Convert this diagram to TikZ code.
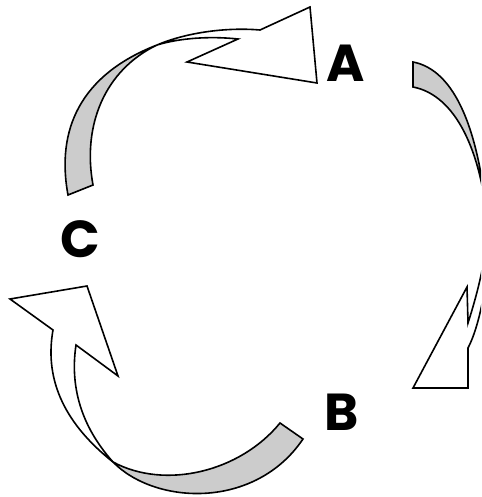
\documentclass[tikz,border=0pt]{standalone}
\usepackage{fontspec}
\newfontfamily\labfont{Poppins}
\begin{document}
\begin{tikzpicture}[x=1pt,y=-1pt,
  back/.style={draw=black,fill=black!20,line width=1.6pt,line join=miter},
  front/.style={draw=black,fill=white,line width=1.6pt,line join=miter},
  lab/.style={font=\labfont\bfseries\fontsize{52}{52}\selectfont,inner sep=0pt}]
\useasboundingbox (0,0) rectangle (481,497);
\clip (0,0) rectangle (481,497);
% key points
\coordinate (X1) at (157,45);
\coordinate (X2) at (488,230);
\coordinate (X3) at (113,462);
% top arrow (C -> A)
\draw[back] (68,195) .. controls (56,130) and (80,75) .. (X1)
   .. controls (105,70) and (82,125) .. (93,185) -- cycle;
\draw[front] (X1) .. controls (185,33) and (225,27) .. (260,30)
   -- (310,7) -- (317,83) -- (187,62) -- (238,39)
   .. controls (210,36) and (180,38) .. (X1) -- cycle;
% right arrow (A -> B)
\draw[back] (413,62) .. controls (455,70) and (480,130) .. (X2)
   .. controls (482,150) and (455,95) .. (413,87) -- cycle;
\draw[front] (X2) .. controls (490,275) and (480,325) .. (468,348)
   -- (468,388) -- (413,388) -- (467,287) -- (468,323)
   .. controls (476,298) and (485,265) .. (X2) -- cycle;
% bottom arrow (B -> C)
\draw[back] (280,423) .. controls (240,472) and (165,490) .. (X3)
   .. controls (155,505) and (255,510) .. (303,439) -- cycle;
\draw[front] (X3) .. controls (60,420) and (45,375) .. (53,330)
   -- (10,299) -- (87,286) -- (118,376) -- (76,345)
   .. controls (70,385) and (80,425) .. (X3) -- cycle;
% labels
\node[lab] (A) at (346,63) {A};
\node[lab] (B) at (342,412) {B};
\node[lab] (C) at (80,239) {C};
\end{tikzpicture}
\end{document}
